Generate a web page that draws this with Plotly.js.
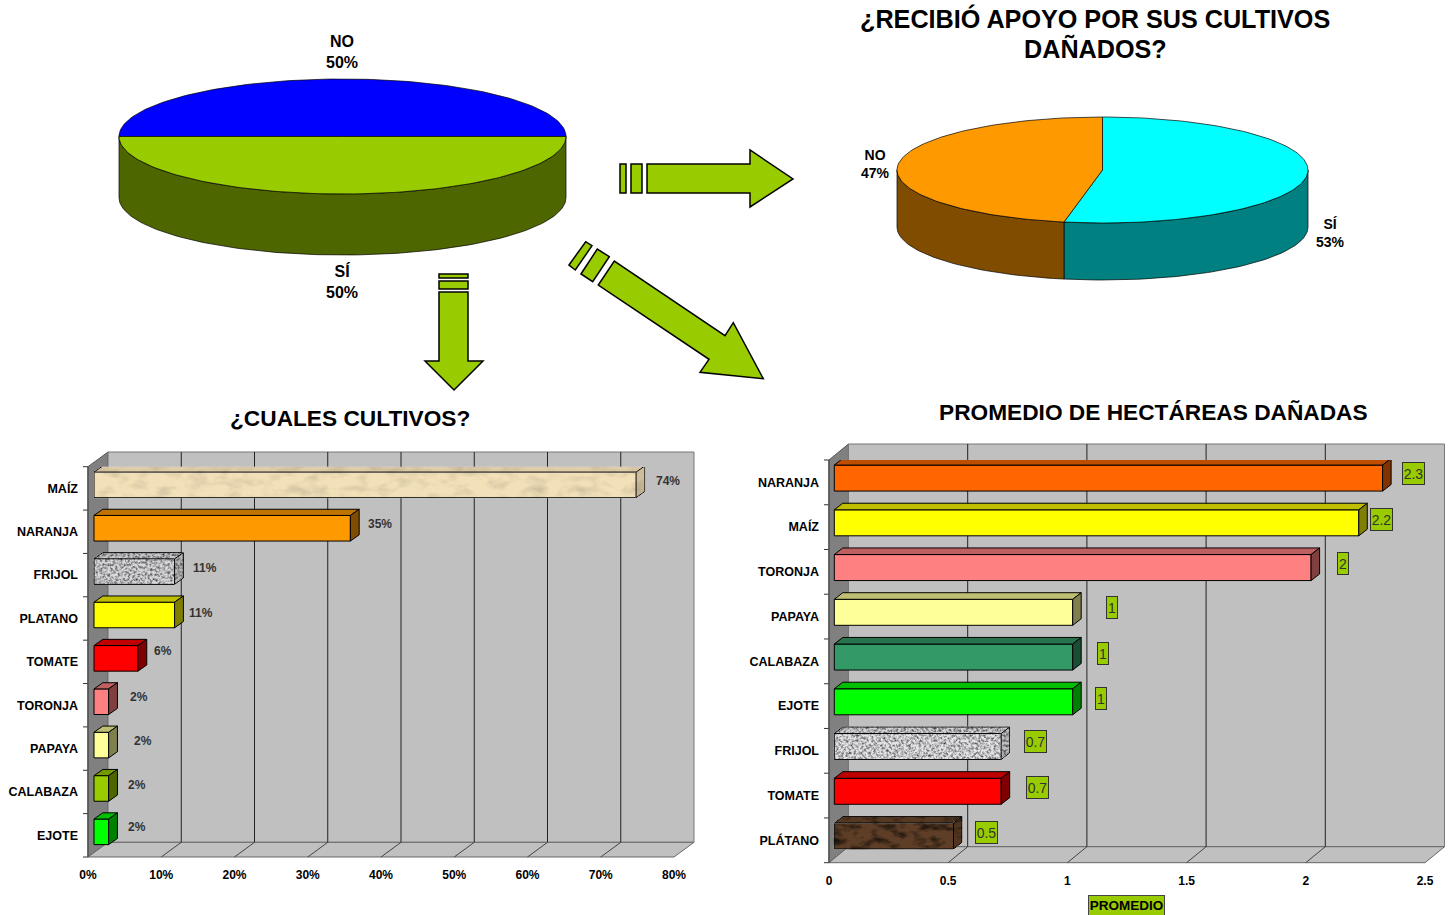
<!DOCTYPE html>
<html><head><meta charset="utf-8">
<script src="https://cdn.plot.ly/plotly-3.0.1.min.js"></script>
<style>html,body{margin:0;padding:0;background:#fff;overflow:hidden}</style>
</head><body><div id="gd" style="width:1453px;height:915px"></div>
<script>
// ---- data ----
const pie1Labels = ['NO','SÍ'];
const pie1Values = [50,50];
const pie1Top = ['#0000ff','#99cc00'];
const pie1Side = ['#00007f','#4d6600'];
const pie2Labels = ['SÍ','NO'];
const pie2Values = [53,47];
const pie2Top = ['#00ffff','#ff9900'];
const pie2Side = ['#008080','#804d00'];

const cropNames = ['MAÍZ','NARANJA','FRIJOL','PLATANO','TOMATE','TORONJA','PAPAYA','CALABAZA','EJOTE'];
const cropValues = [74,35,11,11,6,2,2,2,2];
const cropColors = ['#f2e0b8','#ff9900','#d8d8dc','#ffff00','#ff0000','#ff8080','#ffff99','#99cc00','#00ff00'];
const cropNudgeX = [32,30,30,26,25,30,34,28,28];
const cropNudgeY = [7,8,7,5.5,11,8,8,7,8];

const areaNames = ['NARANJA','MAÍZ','TORONJA','PAPAYA','CALABAZA','EJOTE','FRIJOL','TOMATE','PLÁTANO'];
const areaValues = [2.3,2.2,2,1,1,1,0.7,0.7,0.5];
const areaColors = ['#ff6600','#ffff00','#ff8080','#ffff99','#339966','#00ff00','#e4e4e8','#ff0000','#5e3e26'];
const areaNudgeX = [31,23,32,39,30,28,34,36,33];
const areaNudgeY = [9,8,8,9,8,8,9,8.5,8];

const W=1453,H=915,FONT='"Liberation Sans",Arial,sans-serif',ARROW='#99cc00';
const px=x=>x/W, py=y=>1-y/H;
const traces=[], shapes=[], annotations=[];

function shade(hex,f){const n=parseInt(hex.slice(1),16);
  const c=[n>>16,(n>>8)&255,n&255].map(v=>Math.round(v*f));return 'rgb('+c.join(',')+')';}
function poly(pts,fill,line,width,layer){
  shapes.push({type:'path',xref:'paper',yref:'paper',layer:layer||'below',
    path:'M'+pts.map(p=>px(p[0]).toFixed(5)+','+py(p[1]).toFixed(5)).join('L')+'Z',
    fillcolor:fill,line:{color:line,width:width===undefined?1:width}});
}
function seg(x0,y0,x1,y1,color,width){
  shapes.push({type:'line',xref:'paper',yref:'paper',layer:'below',x0:px(x0),y0:py(y0),x1:px(x1),y1:py(y1),line:{color:color,width:width||1}});
}

// ---- 3D pie ----
function arc(g,t0,t1){const r=[],n=Math.max(2,Math.ceil(Math.abs(t1-t0)/1.5));
  for(let i=0;i<=n;i++){const t=(t0+(t1-t0)*i/n)*Math.PI/180;
    r.push([g.cx+g.rx*Math.sin(t),g.cy-g.ry*Math.cos(t)]);}return r;}
function pie3d(g,values,top,side,names){
  const total=values.reduce((a,b)=>a+b,0);let a=g.start;const sl=values.map(v=>{const s=[a,a+v/total*360];a=s[1];return s;});
  sl.forEach((s,i)=>{[0,360].forEach(sh=>{
    const lo=Math.max(s[0],90+sh),hi=Math.min(s[1],270+sh);
    if(hi>lo){const up=arc(g,lo,hi),dn=up.map(p=>[p[0],p[1]+g.d]).reverse(),pts=up.concat(dn);pts.push(pts[0]);
      traces.push({type:'scatter',mode:'lines',xaxis:'x3',yaxis:'y3',x:pts.map(p=>p[0]),y:pts.map(p=>p[1]),fill:'toself',fillcolor:side[i],
        line:{color:'#000',width:0.7},hoverinfo:'skip',showlegend:false,name:names[i]+' lado'});}
  });});
  sl.forEach((s,i)=>{const pts=[[g.cx,g.cy]].concat(arc(g,s[0],s[1]));pts.push([g.cx,g.cy]);
    traces.push({type:'scatter',mode:'lines',xaxis:'x3',yaxis:'y3',x:pts.map(p=>p[0]),y:pts.map(p=>p[1]),fill:'toself',fillcolor:top[i],
      line:{color:'#000',width:0.7},hoverinfo:'skip',showlegend:false,name:names[i]});});
}
pie3d({cx:342.5,cy:136.5,rx:223.5,ry:57.5,d:61,start:-90},pie1Values,pie1Top,pie1Side,pie1Labels);
pie3d({cx:1102.5,cy:170,rx:205.5,ry:53,d:57,start:0},pie2Values,pie2Top,pie2Side,pie2Labels);

// ---- 3D bars ----
function bars(c){
  const n=c.names.length, sx=(c.xR-c.x0)/c.max, band=(c.yB-c.yT)/n, wallX=c.x0+c.dx, wallR=c.xR+c.dx;
  poly([[c.x0,c.yT],[wallX,c.yT-c.dy],[wallX,c.yB-c.dy],[c.x0,c.yB]],'#808080','#555');
  poly([[wallX,c.yT-c.dy],[wallR,c.yT-c.dy],[wallR,c.yB-c.dy],[wallX,c.yB-c.dy]],'#c0c0c0','#777');
  poly([[c.x0,c.yB],[wallX,c.yB-c.dy],[wallR,c.yB-c.dy],[c.xR,c.yB]],'#c0c0c0','#666');
  for(let v=c.step;v<c.max-1e-6;v+=c.step){const x=c.x0+v*sx;
    seg(x+c.dx,c.yT-c.dy,x+c.dx,c.yB-c.dy,'#222');
    seg(x,c.yB,x+c.dx,c.yB-c.dy,'#444');}
  for(let i=0;i<=n;i++){seg(c.x0-5,c.yT+i*band,c.x0,c.yT+i*band,'#333');}
  seg(c.x0,c.yT,c.x0,c.yB,'#555',1.5);

  const base=c.inset/sx, off=c.center/band, w=c.h/band, ddx=c.bx/sx, ddy=c.by/band;
  const ys=c.names.map((_,i)=>i+off);
  traces.push({type:'bar',orientation:'h',name:c.id,xaxis:c.xa,yaxis:c.ya,x:c.values,y:ys,base:c.values.map(()=>base),width:w,
    marker:{color:c.colors,line:{color:'#000',width:1}},cliponaxis:false,hoverinfo:'x',showlegend:false});
  c.values.forEach((v,i)=>{
    const xe=v+base,t=ys[i]-w/2,b=ys[i]+w/2;
    const face=(X,Y,col,nm)=>traces.push({type:'scatter',mode:'lines',xaxis:c.xa,yaxis:c.ya,x:X,y:Y,fill:'toself',fillcolor:col,
      line:{color:'#000',width:1},cliponaxis:false,hoverinfo:'skip',showlegend:false,name:nm});
    face([base,base+ddx,xe+ddx,xe,base],[t,t-ddy,t-ddy,t,t],shade(c.colors[i],c.tex[i]?0.92:0.75),c.id+'-top-'+i);
    face([xe,xe+ddx,xe+ddx,xe,xe],[t,t-ddy,b-ddy,b,t],shade(c.colors[i],c.tex[i]?0.85:0.5),c.id+'-side-'+i);
    const a={xref:c.xa,yref:c.ya,x:xe,y:i,xshift:c.nudgeX[i],yshift:c.nudgeY[i],text:String(v)+c.suffix,showarrow:false,xanchor:'center',yanchor:'middle',
      font:{family:FONT,size:c.labelSize,color:c.labelColor}};
    if(c.boxed){a.bgcolor=ARROW;a.bordercolor='#333';a.borderwidth=1;a.borderpad=0;a.width=String(v).length>1?21:10;a.height=21;}
    else a.font.weight='bold';
    annotations.push(a);
  });
}
bars({id:'cultivos',xa:'x',ya:'y',names:cropNames,values:cropValues,colors:cropColors,x0:88,xR:674,yT:466.7,yB:857,max:80,step:10,dx:20,dy:14.7,
  inset:6,center:-3.5,h:25.6,bx:8.8,by:6.2,nudgeX:cropNudgeX,nudgeY:cropNudgeY,suffix:'%',labelSize:12,labelColor:'#333',boxed:false,
  tex:[1,0,1,0,0,0,0,0,0]});
bars({id:'hectareas',xa:'x2',ya:'y2',names:areaNames,values:areaValues,colors:areaColors,x0:829,xR:1425,yT:460,yB:862.7,max:2.5,step:0.5,dx:19.5,dy:16,
  inset:5.3,center:-4.3,h:26,bx:8.5,by:6.6,nudgeX:areaNudgeX,nudgeY:areaNudgeY,suffix:'',labelSize:14,labelColor:'#333',boxed:true,
  tex:[0,0,0,0,0,0,1,0,1]});

// ---- arrows ----
const arrowParts=[
 [[620,164],[626,164],[626,193],[620,193]],
 [[631,164],[642,164],[642,193],[631,193]],
 [[647,164],[750,164],[750,150],[793,179],[750,207],[750,193],[647,193]],
 [[569,265],[585.7,241.7],[592,245.7],[575.3,270]],
 [[581,274],[597.3,249],[609.3,256.7],[592.7,281.7]],
 [[598.3,285],[614.3,261],[725,335.7],[733.3,322.7],[763.3,378.7],[700,372.3],[709,359.3]],
 [[439,274],[468,274],[468,278],[439,278]],
 [[439,281],[468,281],[468,289],[439,289]],
 [[439,292],[468,292],[468,361],[483,361],[454,390],[425,361],[439,361]]
];
arrowParts.forEach(p=>poly(p,ARROW,'#000',1.5,'above'));

// ---- texts ----
function txt(x,y,text,size,extra){annotations.push(Object.assign({xref:'paper',yref:'paper',x:px(x),y:py(y),text:text,showarrow:false,xanchor:'center',yanchor:'middle',
  font:{family:FONT,size:size,color:'#000',weight:'bold'}},extra||{}));}
txt(1095,18.5,'¿RECIBIÓ APOYO POR SUS CULTIVOS',25.2);
txt(1095,48,'DAÑADOS?',25.2);
txt(350,418,'¿CUALES CULTIVOS?',22.7);
txt(1153,412,'PROMEDIO DE HECTÁREAS DAÑADAS',22.7);
txt(342,51.5,pie1Labels[0]+'<br>'+pie1Values[0]+'%',16);
txt(342,281.5,pie1Labels[1]+'<br>'+pie1Values[1]+'%',16);
txt(875,164,pie2Labels[1]+'<br>'+pie2Values[1]+'%',14);
txt(1330,233,pie2Labels[0]+'<br>'+pie2Values[0]+'%',14);
txt(1126,905,'PROMEDIO',13.5,{bgcolor:ARROW,bordercolor:'#444',borderwidth:1,borderpad:0,width:75,height:19});

const tickFont={family:FONT,size:12,color:'#000',weight:'bold'};
const axisBase={showgrid:false,zeroline:false,showline:false,ticks:'',fixedrange:true};
function yAxis(names,yT,yB,anchor,standoff){return Object.assign({},axisBase,{domain:[py(yB),py(yT)],range:[names.length-0.5,-0.5],tickmode:'array',
  tickvals:names.map((_,i)=>i),ticktext:names,anchor:anchor,tickfont:{family:FONT,size:12.5,color:'#000',weight:'bold'},ticklabelstandoff:standoff});}
const layout={width:W,height:H,margin:{l:0,r:0,t:0,b:0},paper_bgcolor:'#fff',plot_bgcolor:'rgba(0,0,0,0)',showlegend:false,hovermode:false,bargap:0,
  xaxis:Object.assign({},axisBase,{domain:[px(88),px(674)],range:[0,80],tick0:0,dtick:10,ticksuffix:'%',anchor:'y',tickfont:tickFont,ticklabelstandoff:9}),
  yaxis:yAxis(cropNames,466.7,857,'x',9),
  xaxis2:Object.assign({},axisBase,{domain:[px(829),px(1425)],range:[0,2.5],tick0:0,dtick:0.5,anchor:'y2',tickfont:tickFont,ticklabelstandoff:9}),
  yaxis2:yAxis(areaNames,460,862.7,'x2',9),
  xaxis3:{domain:[0,1],range:[0,W],visible:false,fixedrange:true,anchor:'y3'},
  yaxis3:{domain:[0,1],range:[H,0],visible:false,fixedrange:true,anchor:'x3'},
  shapes:shapes,annotations:annotations};

const gd=document.getElementById('gd');
Plotly.newPlot(gd,traces,layout,{displayModeBar:false,staticPlot:true}).then(()=>{
  const NS='http://www.w3.org/2000/svg', svg=gd.querySelector('.main-svg');
  const defs=document.createElementNS(NS,'defs');
  const mk=(id,freq,oct,seed,gain,bias)=>`<filter id="${id}" x="-5%" y="-5%" width="110%" height="110%" color-interpolation-filters="sRGB">
    <feTurbulence type="fractalNoise" baseFrequency="${freq}" numOctaves="${oct}" seed="${seed}" result="n"/>
    <feColorMatrix in="n" type="matrix" result="g" values="${gain} 0 0 0 ${bias} ${gain} 0 0 0 ${bias} ${gain} 0 0 0 ${bias} 0 0 0 0 1"/>
    <feBlend in="SourceGraphic" in2="g" mode="multiply" result="m"/>
    <feComposite in="m" in2="SourceAlpha" operator="in"/></filter>`;
  defs.innerHTML=mk('texMaiz','0.05 0.1',3,3,0.28,0.84)+mk('texFrijol','0.4',3,7,1.4,0.14)+mk('texPlatano','0.07 0.14',4,11,1.7,0.08);
  svg.insertBefore(defs,svg.firstChild);
  const texOf=(chart,i)=>{
    if(chart==='cultivos') return {0:'texMaiz',2:'texFrijol'}[i];
    if(chart==='hectareas') return {6:'texFrijol',8:'texPlatano'}[i];
  };
  gd.querySelectorAll('.barlayer .trace').forEach(tr=>{
    const name=tr.__data__[0].trace.name;
    tr.querySelectorAll('.point').forEach(p=>{const t=texOf(name,p.__data__.i);
      if(t) p.querySelector('path').setAttribute('filter','url(#'+t+')');});
  });
  gd.querySelectorAll('.scatterlayer .trace').forEach(tr=>{
    const m=/^(cultivos|hectareas)-(top|side)-(\d+)$/.exec(tr.__data__[0].trace.name||'');
    if(m){const t=texOf(m[1],+m[3]); if(t) tr.setAttribute('filter','url(#'+t+')');}
  });
});
</script></body></html>
